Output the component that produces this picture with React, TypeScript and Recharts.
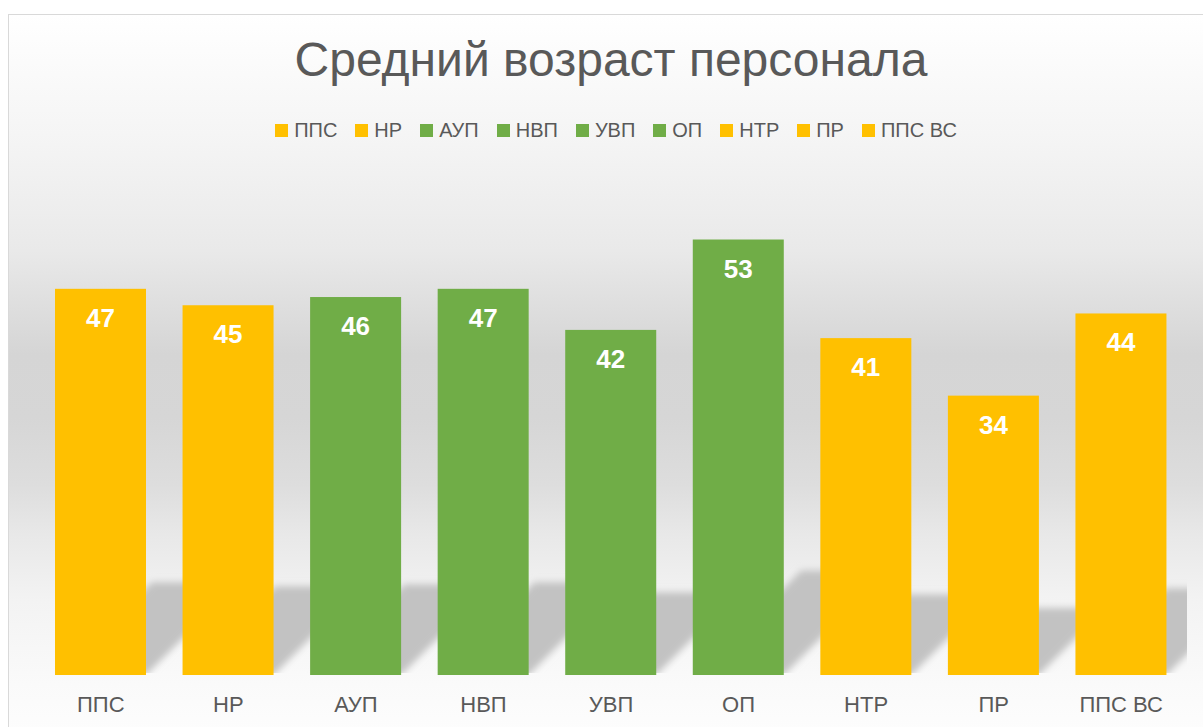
import React from 'react';
import { BarChart, Bar, XAxis, YAxis, Cell, LabelList, Legend } from 'recharts';

const categories = ['ППС', 'НР', 'АУП', 'НВП', 'УВП', 'ОП', 'НТР', 'ПР', 'ППС ВС'];
const ages = [47, 45, 46, 47, 42, 53, 41, 34, 44];
const groups = ['y', 'y', 'g', 'g', 'g', 'g', 'y', 'y', 'y'];

const GROUP_COLORS: Record<string, string> = { y: '#FFC000', g: '#70AD47' };

const data = categories.map((name, i) => ({ name, value: ages[i], group: groups[i] }));

const PLOT_LEFT = 37;
const PLOT_RIGHT = 1187;
const LEGEND_H = 20;

// bar with a slanted, blurred shadow behind it
const ShadowBar = (props: any) => {
  const { x, y, width, height, fill, index } = props;
  const base = y + height;
  const sh = height * 0.24;
  const dx = sh * 1.0;
  const pts = [
    [x + 4, base],
    [x + width, base],
    [x + width + dx, base - sh],
    [x + dx + 4, base - sh],
  ]
    .map((p) => p.join(','))
    .join(' ');
  return (
    <g>
      <defs>
        <filter id={`blur-${index}`} x="-50%" y="-50%" width="200%" height="200%">
          <feGaussianBlur stdDeviation="3.5" />
        </filter>
        <clipPath id={`clip-${index}`}>
          <rect x={PLOT_LEFT} y={0} width={PLOT_RIGHT - PLOT_LEFT} height={base - 2} />
        </clipPath>
      </defs>
      <g clipPath={`url(#clip-${index})`}>
        <polygon points={pts} fill="#c2c2c2" filter={`url(#blur-${index})`} />
      </g>
      <rect x={x} y={y} width={width} height={height} fill={fill} />
    </g>
  );
};

const ValueLabel = (props: any) => {
  const { x, y, width, value } = props;
  return (
    <text
      x={x + width / 2}
      y={y + 38}
      textAnchor="middle"
      fill="#ffffff"
      fontSize={26}
      fontWeight="bold"
      fontFamily="'Liberation Sans', Arial, sans-serif"
    >
      {value}
    </text>
  );
};

const AxisTick = (props: any) => {
  const { x, y, payload } = props;
  return (
    <text
      x={x}
      y={y + 37}
      textAnchor="middle"
      fill="#595959"
      fontSize={22}
      fontFamily="'Liberation Sans', Arial, sans-serif"
    >
      {payload.value}
    </text>
  );
};

const LegendRow = () => (
  <div
    style={{
      display: 'flex',
      justifyContent: 'center',
      alignItems: 'center',
      fontFamily: "'Liberation Sans', Arial, sans-serif",
      fontSize: 20,
      color: '#595959',
      lineHeight: `${LEGEND_H}px`,
      height: LEGEND_H,
    }}
  >
    {data.map((d, i) => (
      <div
        key={d.name}
        style={{ display: 'flex', alignItems: 'center', marginRight: i < data.length - 1 ? 18 : 0 }}
      >
        <span
          style={{
            display: 'inline-block',
            width: 13,
            height: 13,
            background: GROUP_COLORS[d.group],
            marginRight: 6,
          }}
        />
        <span>{d.name}</span>
      </div>
    ))}
  </div>
);

export default function App() {
  return (
    <div style={{ position: 'fixed', inset: 0, overflow: 'hidden', background: '#ffffff' }}>
      <style>{`body{margin:0;overflow:hidden}`}</style>
      <div
        style={{
          position: 'absolute',
          left: 8,
          top: 14,
          width: 1210,
          height: 740,
          boxSizing: 'border-box',
          border: '1.5px solid #d9d9d9',
          background:
            'linear-gradient(to bottom, #ffffff 0px, #f4f4f4 130px, #e9e9e9 236px, #dcdcdc 303px, #d5d5d5 340px, #d6d6d6 403px, #dddddd 469px, #e8e8e8 519px, #f3f3f3 586px, #fafafa 669px, #fdfdfd 720px)',
        }}
      />
      <div
        style={{
          position: 'absolute',
          left: 0,
          top: 36,
          width: 1222,
          textAlign: 'center',
          fontFamily: "'Liberation Sans', Arial, sans-serif",
          fontSize: 48,
          lineHeight: '48px',
          color: '#595959',
        }}
      >
        Средний возраст персонала
      </div>
      <div style={{ position: 'absolute', left: 0, top: 0 }}>
        <BarChart
          width={1203}
          height={727}
          data={data}
          margin={{ top: 182 - LEGEND_H, right: 1203 - PLOT_RIGHT + 2, bottom: 22, left: PLOT_LEFT }}
        >
          <XAxis
            dataKey="name"
            axisLine={false}
            tickLine={false}
            tickSize={0}
            tickMargin={0}
            height={30}
            interval={0}
            tick={<AxisTick />}
          />
          <YAxis hide domain={[0, 60]} />
          <Legend
            verticalAlign="top"
            height={LEGEND_H}
            content={<LegendRow />}
            wrapperStyle={{ position: 'absolute', top: 120, left: 0, width: 1232 }}
          />
          <Bar dataKey="value" barSize={91} isAnimationActive={false} shape={<ShadowBar />}>
            {data.map((d) => (
              <Cell key={d.name} fill={GROUP_COLORS[d.group]} />
            ))}
            <LabelList dataKey="value" content={<ValueLabel />} />
          </Bar>
        </BarChart>
      </div>
    </div>
  );
}
